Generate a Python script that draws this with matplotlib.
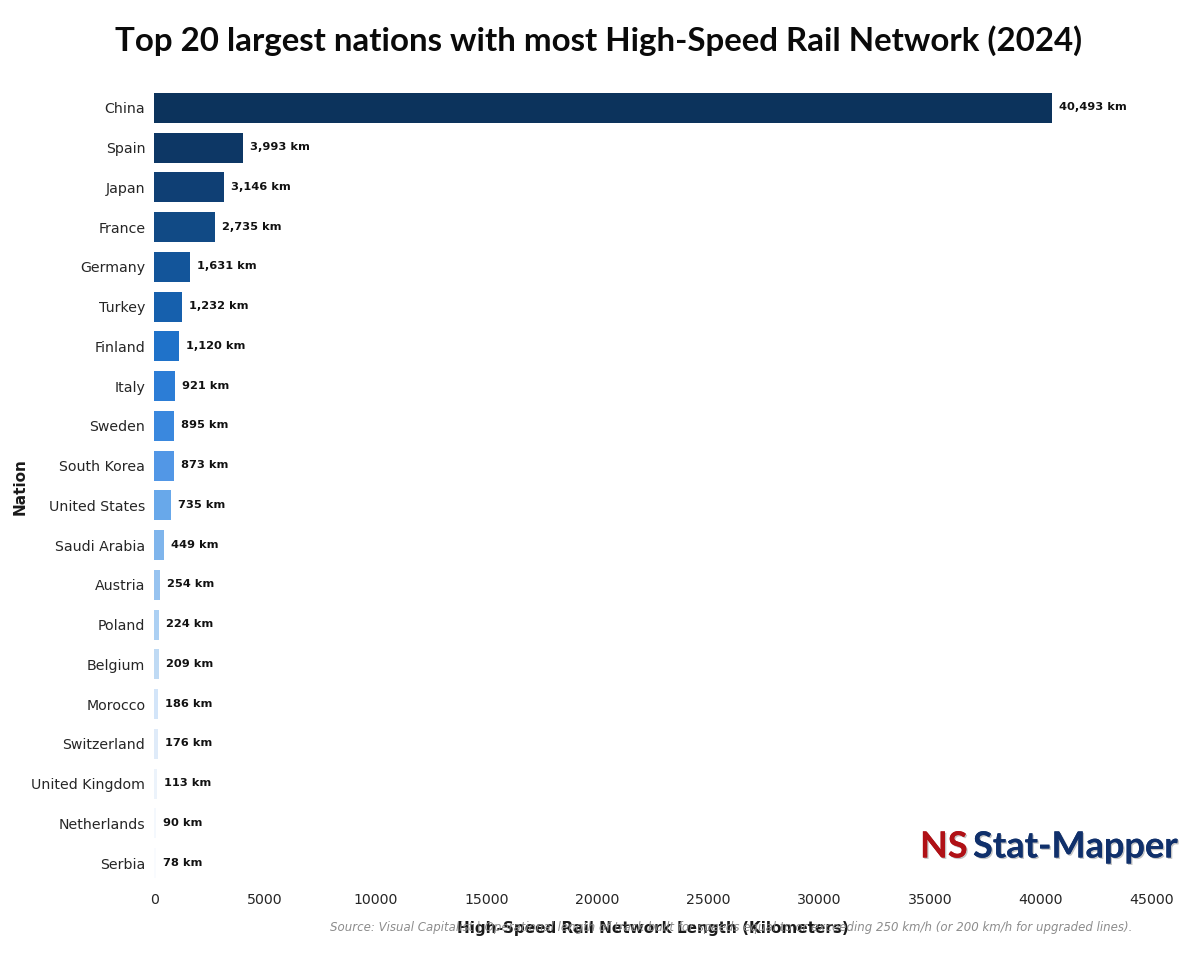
import matplotlib
matplotlib.use("Agg")
import matplotlib.pyplot as plt
import matplotlib.patheffects as pe

nations = ["China", "Spain", "Japan", "France", "Germany", "Turkey", "Finland", "Italy", "Sweden",
           "South Korea", "United States", "Saudi Arabia", "Austria", "Poland", "Belgium", "Morocco",
           "Switzerland", "United Kingdom", "Netherlands", "Serbia"]
lengths = [40493, 3993, 3146, 2735, 1631, 1232, 1120, 921, 895, 873, 735, 449, 254, 224, 209, 186, 176, 113, 90, 78]
bar_colors = ["#0c335c", "#0d3765", "#0f3f74", "#114a85", "#13559a", "#1660ad", "#1f72c9", "#2c7dd6",
              "#3a88de", "#5297e6", "#68a8ea", "#7fb5ec", "#97c3f0", "#acd0f3", "#bfdaf4", "#d3e5f9",
              "#dfebf9", "#ecf3fb", "#f4f8fd", "#f9fbfe"]
xticks = [0, 5000, 10000, 15000, 20000, 25000, 30000, 35000, 40000, 45000]

fig = plt.figure(figsize=(12, 9.56), dpi=100)
ax = fig.add_axes([154.3/1200, 1-883/956, (1151.5-154.3)/1200, (883-88)/956])
ax.barh(range(len(nations)), lengths, height=0.76, color=bar_colors)
ax.set_ylim(len(nations)-0.5, -0.5)
ax.set_xlim(0, 45000)
ax.set_xticks(xticks)
ax.set_yticks(range(len(nations)))
ax.set_yticklabels(nations)
ax.tick_params(axis="both", length=0, labelsize=10.2, labelcolor="#262626")
ax.tick_params(axis="y", pad=6.5)
ax.tick_params(axis="x", pad=7)
for s in ax.spines.values():
    s.set_visible(False)
for i, v in enumerate(lengths):
    ax.annotate(f"{v:,} km", (v, i), xytext=(5, 0.3), textcoords="offset points", va="center", ha="left",
                fontsize=8.2, fontweight="bold", color="#111111")

fig.text(599/1200, 1-41/956, "Top 20 largest nations with most High-Speed Rail Network (2024)",
         ha="center", va="center", family="Lato", fontweight="bold", fontsize=23.8, color="#0a0a0a")
fig.text(652.5/1200, 1-929/956, "High-Speed Rail Network Length (Kilometers)", ha="center", va="center",
         fontsize=11, fontweight="bold", color="#1a1a1a")
fig.text(20/1200, 1-487/956, "Nation", rotation=90, ha="center", va="center",
         fontsize=11, fontweight="bold", color="#1a1a1a")
fig.text(731.5/1200, 1-927/956,
         "Source: Visual Capitalist | Operational length of track built for speeds equal to or exceeding 250 km/h (or 200 km/h for upgraded lines).",
         ha="center", va="center", fontsize=8.45, style="italic", color="#8c8c8c")

shadow = [pe.withSimplePatchShadow(offset=(1.0, -1.0), shadow_rgbFace="#8a8a8a", alpha=0.5), pe.Normal()]
fig.text(920/1200, 1-847/956, "NS", ha="left", va="center", family="Lato", fontweight="bold",
         fontsize=26, color="#b01116", path_effects=shadow)
fig.text(973/1200, 1-847/956, "Stat-Mapper", ha="left", va="center", family="Lato", fontweight="bold",
         fontsize=26, color="#10306b", path_effects=shadow)

fig.savefig("out.png", dpi=100, facecolor="white")
